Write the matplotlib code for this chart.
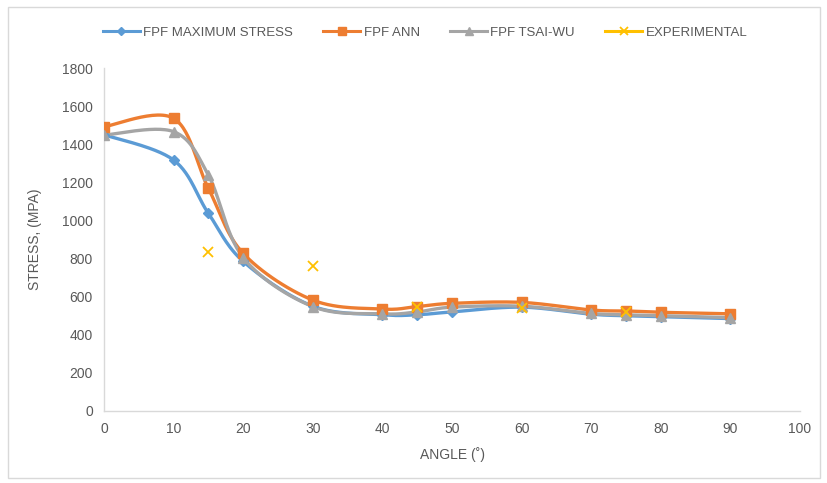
import numpy as np
import matplotlib
matplotlib.use("Agg")
import matplotlib.pyplot as plt
from matplotlib.patches import Rectangle

plt.rcParams['font.family'] = ['Liberation Sans Narrow', 'Liberation Sans', 'DejaVu Sans']

angles = [0, 10, 15, 20, 30, 40, 45, 50, 60, 70, 75, 80, 90]
max_stress = [1450, 1317, 1037, 785, 550, 505, 505, 520, 545, 508, 500, 495, 485]
ann = [1492, 1536, 1168, 827, 582, 535, 548, 565, 570, 530, 525, 518, 510]
tsai_wu = [1448, 1466, 1238, 805, 548, 510, 520, 545, 550, 512, 505, 500, 490]
exp_angles = [15, 30, 45, 60, 75]
experimental = [834, 761, 546, 540, 522]

def smooth(x, y, n=30):
    x = np.asarray(x, float); y = np.asarray(y, float)
    P = np.column_stack([x, y])
    out = []
    for i in range(len(P) - 1):
        p0 = P[i - 1] if i > 0 else P[i]
        p1 = P[i]; p2 = P[i + 1]
        p3 = P[i + 2] if i + 2 < len(P) else P[i + 1]
        c1 = p1 + (p2 - p0) / 6.0
        c2 = p2 - (p3 - p1) / 6.0
        t = np.linspace(0, 1, n)[:, None]
        seg = (1 - t) ** 3 * p1 + 3 * (1 - t) ** 2 * t * c1 + 3 * (1 - t) * t ** 2 * c2 + t ** 3 * p2
        out.append(seg if i == 0 else seg[1:])
    s = np.vstack(out)
    return s[:, 0], s[:, 1]

fig = plt.figure(figsize=(8.27, 4.83), dpi=100)
ax = fig.add_axes([104 / 827, 1 - 411 / 483, 696 / 827, 343 / 483])

series = [
    ("FPF MAXIMUM STRESS", max_stress, '#5B9BD5', 'D', 5),
    ("FPF ANN", ann, '#ED7D31', 's', 7),
    ("FPF TSAI-WU", tsai_wu, '#A5A5A5', '^', 7),
]
handles = []
for name, vals, col, mk, ms in series:
    sx, sy = smooth(angles, vals)
    ax.plot(sx, sy, color=col, lw=2.4, solid_capstyle='round', zorder=2)
    ax.plot(angles, vals, ls='none', marker=mk, ms=ms, color=col, zorder=3)
    h, = ax.plot([], [], color=col, lw=2.2, marker=mk, ms=ms - 1)
    handles.append((h, name))

ax.plot(exp_angles, experimental, ls='none', marker='x', ms=7, mew=1.3, color='#FFC000', zorder=4)
h, = ax.plot([], [], color='#FFC000', lw=2.2, marker='x', ms=6, mew=1.3)
handles.append((h, "EXPERIMENTAL"))

ax.set_xlim(0, 100)
ax.set_ylim(0, 1800)
ax.set_xticks(range(0, 101, 10))
ax.set_yticks(range(0, 1801, 200))
for s in ['top', 'right']:
    ax.spines[s].set_visible(False)
for s in ['left', 'bottom']:
    ax.spines[s].set_color('#D9D9D9')
    ax.spines[s].set_linewidth(1.0)
ax.tick_params(length=0, colors='#595959', labelsize=10, pad=8)
ax.set_xlabel("ANGLE (˚)", color='#595959', fontsize=10, labelpad=8)
ax.set_ylabel("STRESS, (MPA)", color='#595959', fontsize=10, labelpad=14)

leg = fig.legend([h for h, _ in handles], [n for _, n in handles], loc='center',
                 bbox_to_anchor=(425 / 827, 1 - 33 / 483), ncol=4, frameon=False,
                 fontsize=9.5, handlelength=2.8, columnspacing=2.3, handletextpad=0.25)
for t in leg.get_texts():
    t.set_color('#595959')

fig.patches.append(Rectangle((8 / 827, 1 - 478 / 483), 812 / 827, 471 / 483,
                             transform=fig.transFigure, fill=False, ec='#D9D9D9', lw=1.0))

fig.savefig("out.png", dpi=100)
